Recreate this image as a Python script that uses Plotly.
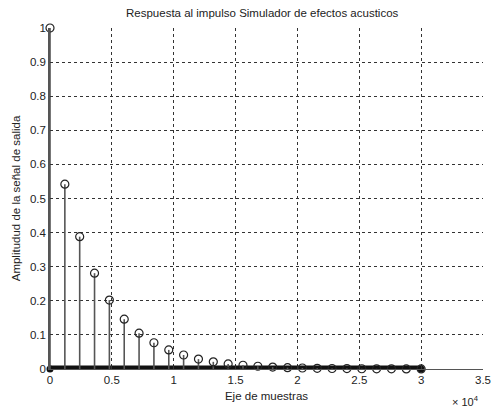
import plotly.graph_objects as go

# Data
stem_x = [0, 1200, 2400, 3600, 4800, 6000, 7200, 8400, 9600, 10800, 12000, 13200,
          14400, 15600, 16800, 18000, 19200, 20400, 21600, 22800, 24000, 25200,
          26400, 27600, 28800, 30000]
stem_y = [1.0, 0.542, 0.388, 0.281, 0.202, 0.146, 0.105, 0.077, 0.056, 0.041,
          0.029, 0.021, 0.015, 0.011, 0.008, 0.0056, 0.004, 0.0029, 0.0021,
          0.0015, 0.0011, 0.0008, 0.0006, 0.0004, 0.0003, 0.0002]
zero_band_x = [0, 30000]
zero_band_y = [0, 0]

x_tickvals = [0, 5000, 10000, 15000, 20000, 25000, 30000, 35000]
x_ticktext = ["0", "0.5", "1", "1.5", "2", "2.5", "3", "3.5"]
y_tickvals = [0, 0.1, 0.2, 0.3, 0.4, 0.5, 0.6, 0.7, 0.8, 0.9, 1.0]
y_ticktext = ["0", "0.1", "0.2", "0.3", "0.4", "0.5", "0.6", "0.7", "0.8", "0.9", "1"]

sx, sy = [], []
for xv, yv in zip(stem_x, stem_y):
    sx += [xv, xv, None]
    sy += [0, yv, None]

fig = go.Figure()
fig.add_trace(go.Scatter(x=zero_band_x, y=zero_band_y, mode="lines+markers",
                         line=dict(color="#111", width=7),
                         marker=dict(color="#111", size=7),
                         cliponaxis=False, hoverinfo="skip", showlegend=False))
fig.add_trace(go.Scatter(x=sx, y=sy, mode="lines",
                         line=dict(color="#555", width=1.6),
                         cliponaxis=False, showlegend=False))
fig.add_trace(go.Scatter(x=stem_x, y=stem_y, mode="markers",
                         marker=dict(symbol="circle-open", size=8, color="#222",
                                     line=dict(width=1.2)),
                         cliponaxis=False, showlegend=False))

font = "Liberation Sans, Arial, sans-serif"
fig.update_layout(
    width=493, height=411,
    margin=dict(l=50, r=10, t=28, b=42, autoexpand=False),
    paper_bgcolor="white", plot_bgcolor="white",
    font=dict(family=font, size=11.5, color="#222"),
    title=dict(text="Respuesta al impulso Simulador de efectos acusticos",
               x=0.49, xanchor="center", xref="paper",
               y=0.968, yanchor="middle", yref="container",
               font=dict(size=11.5, family=font, color="#222")),
    xaxis=dict(range=[0, 35000], tickvals=x_tickvals, ticktext=x_ticktext,
               showgrid=True, gridcolor="#333", gridwidth=1, griddash="3px,3px",
               showline=True, linecolor="#555", linewidth=1,
               ticks="inside", ticklen=3, tickcolor="#333",
               zeroline=False, automargin=False,
               title=dict(text="Eje de muestras", standoff=7, font=dict(size=11.5))),
    yaxis=dict(range=[0, 1], tickvals=y_tickvals, ticktext=y_ticktext,
               showgrid=True, gridcolor="#333", gridwidth=1, griddash="3px,3px",
               showline=True, linecolor="#555", linewidth=1.5,
               ticks="inside", ticklen=3, tickcolor="#333",
               zeroline=False, automargin=False,
               title=dict(text="Amplitudud de la señal de salida", standoff=7,
                          font=dict(size=11.5))),
    annotations=[dict(text="× 10<sup>4</sup>", xref="paper", yref="paper",
                      x=0.995, y=-0.095, xanchor="right", yanchor="middle",
                      showarrow=False, font=dict(size=11, family=font))],
)

fig.write_html("out.html", config={"displayModeBar": False},
               post_script="document.body.style.margin='0';document.body.style.overflow='hidden';")
